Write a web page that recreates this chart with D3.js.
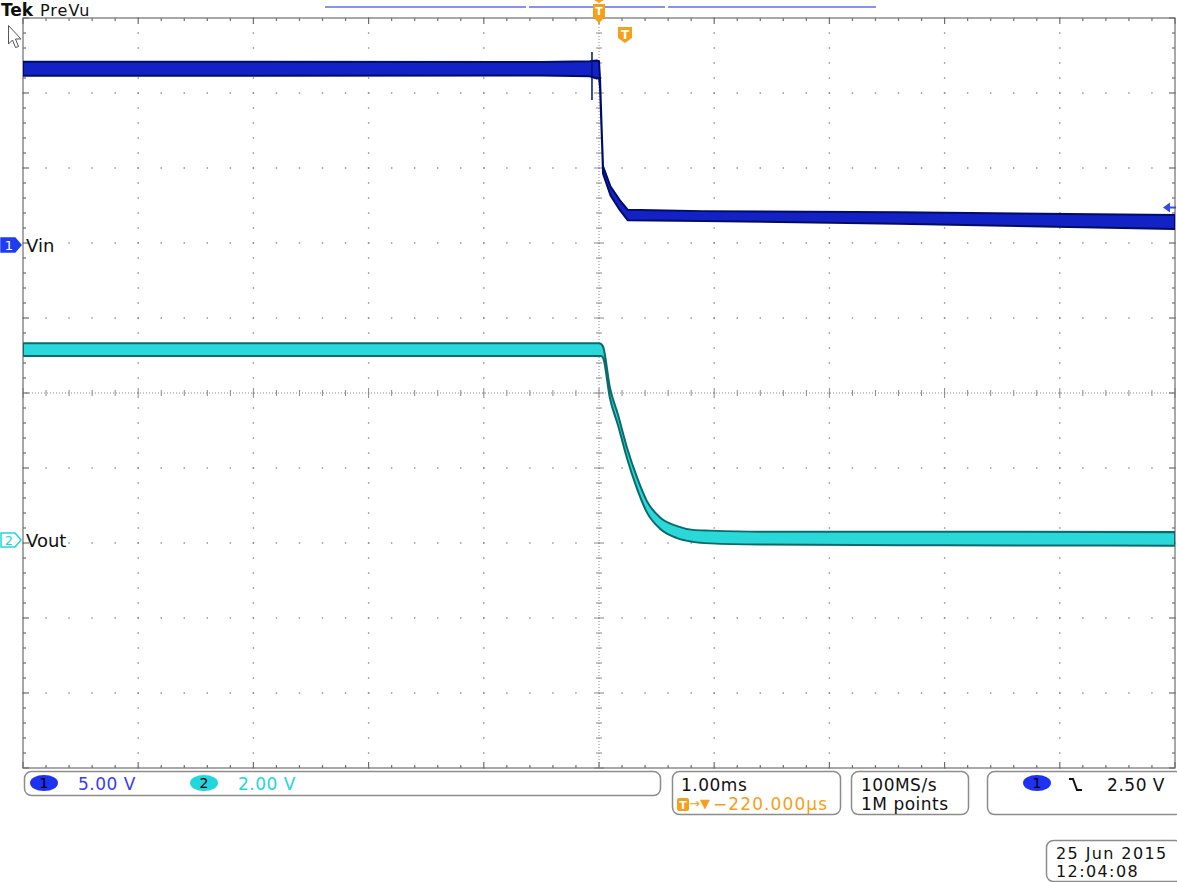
<!DOCTYPE html>
<html>
<head>
<meta charset="utf-8">
<script src="https://cdn.jsdelivr.net/npm/d3@7.9.0/dist/d3.min.js"></script>
<style>
  body { margin: 0; background: #fff; }
  svg { display: block; font-family: 'DejaVu Sans', sans-serif; }
</style>
</head>
<body>
<div id="scope"></div>
<script>
// time in ms (0 = trigger at screen centre), volts per channel
const vinTime  = [-5.0, -0.5, -0.08, -0.02, 0.0, 0.009, 0.026, 0.035, 0.10, 0.18, 0.25, 0.9, 2.6, 5.0];
const vinVolts = [11.75, 11.75, 11.75, 11.7, 11.7, 10.8, 7.0, 5.0, 3.6, 2.67, 2.0, 1.93, 1.8, 1.53];
const vinNoise = [0.47, 0.45, 0.5, 0.6, 0.55, 0.3, 0.15, 0.25, 0.3, 0.33, 0.35, 0.33, 0.38, 0.47];
const glitchTime  = [-0.061, -0.061];
const glitchVolts = [12.87, 9.67];

const voutTime  = [-5.0, -0.5, 0.0, 0.017, 0.035, 0.095, 0.165, 0.243, 0.33, 0.417, 0.53, 0.677, 0.816, 0.964, 1.4, 3.0, 5.0];
const voutVolts = [5.08, 5.08, 5.08, 5.07, 5.01, 3.92, 3.2, 2.32, 1.52, 0.88, 0.45, 0.21, 0.11, 0.08, 0.05, 0.04, 0.03];
const voutNoise = [0.17, 0.17, 0.17, 0.16, 0.15, 0.14, 0.14, 0.14, 0.15, 0.15, 0.15, 0.16, 0.16, 0.17, 0.17, 0.18, 0.18];

// scope settings
const ch1 = { label: 'Vin', scale: 5, position: 1.973, setting: '5.00 V' };
const ch2 = { label: 'Vout', scale: 2, position: -1.96, setting: '2.00 V' };
const timebase = '1.00ms';
const trigDelay = '\u2212220.000\u00b5s';
const sampleRate = '100MS/s';
const recordLen = '1M points';
const trigLevel = 2.5;
const trigText = '2.50 V';
const dateText = ['25 Jun 2015', '12:04:08'];

const W = 1177, H = 882;
const gLeft = 23, gRight = 1175, gTop = 18, gBottom = 768;
const cyan = '#22d6dc', orange = '#f5a01a';

const svg = d3.select('#scope').append('svg')
  .attr('width', W).attr('height', H);
svg.append('rect').attr('width', W).attr('height', H).attr('fill', '#fff');

const x = d3.scaleLinear().domain([-5, 5]).range([gLeft, gRight]);
const yDiv = d3.scaleLinear().domain([-5, 5]).range([gBottom, gTop]);
const yCh = (ch) => (v) => yDiv(v / ch.scale + ch.position);
const y1 = yCh(ch1), y2 = yCh(ch2);

// graticule
const minorX = d3.range(-5, 5.001, 0.2);
const minorY = d3.range(-5, 5.001, 0.2);
const majors = d3.range(-4, 5, 1).filter(d => d !== 0);
const grid = svg.append('g').attr('fill', '#8a8a8a');

majors.forEach(m => {
  grid.selectAll(null).data(minorY).join('rect')
    .attr('x', x(m) - 0.7).attr('y', d => yDiv(d) - 0.7)
    .attr('width', 1.4).attr('height', 1.4);
  grid.selectAll(null).data(minorX).join('rect')
    .attr('x', d => x(d) - 0.7).attr('y', yDiv(m) - 0.7)
    .attr('width', 1.4).attr('height', 1.4);
});

const isMajor = d => Math.abs(d - Math.round(d)) < 0.01;

// centre cross
const cross = svg.append('g').attr('stroke', '#8a8a8a').attr('stroke-width', 1);
cross.append('line').attr('x1', gLeft).attr('x2', gRight)
  .attr('y1', yDiv(0)).attr('y2', yDiv(0)).attr('stroke-dasharray', '1,2');
cross.append('line').attr('y1', gTop).attr('y2', gBottom)
  .attr('x1', x(0)).attr('x2', x(0)).attr('stroke-dasharray', '1,2');
cross.selectAll('.cx').data(minorX).join('line')
  .attr('x1', d => x(d)).attr('x2', d => x(d))
  .attr('y1', d => yDiv(0) - (isMajor(d) ? 5 : 3))
  .attr('y2', d => yDiv(0) + (isMajor(d) ? 5 : 3));
cross.selectAll('.cy').data(minorY).join('line')
  .attr('y1', d => yDiv(d)).attr('y2', d => yDiv(d))
  .attr('x1', d => x(0) - (isMajor(d) ? 5 : 3))
  .attr('x2', d => x(0) + (isMajor(d) ? 5 : 3));

// border with inward ticks
const tickLen = d => (isMajor(d) ? 6 : 3);
const border = svg.append('g').attr('stroke', '#6e6e6e').attr('stroke-width', 1.2);
border.append('rect').attr('x', gLeft).attr('y', gTop)
  .attr('width', gRight - gLeft).attr('height', gBottom - gTop).attr('fill', 'none');
minorX.forEach(d => {
  border.append('line').attr('x1', x(d)).attr('x2', x(d)).attr('y1', gTop).attr('y2', gTop + tickLen(d));
  border.append('line').attr('x1', x(d)).attr('x2', x(d)).attr('y1', gBottom).attr('y2', gBottom - tickLen(d));
});
minorY.forEach(d => {
  border.append('line').attr('y1', yDiv(d)).attr('y2', yDiv(d)).attr('x1', gLeft).attr('x2', gLeft + tickLen(d));
  border.append('line').attr('y1', yDiv(d)).attr('y2', yDiv(d)).attr('x1', gRight).attr('x2', gRight - tickLen(d));
});

// traces
svg.append('clipPath').attr('id', 'clip').append('rect')
  .attr('x', gLeft).attr('y', gTop).attr('width', gRight - gLeft).attr('height', gBottom - gTop);
const traces = svg.append('g').attr('clip-path', 'url(#clip)');

function band(times, volts, noise, ys, fill, edge, curve) {
  const pts = times.map((t, i) => ({ t, v: volts[i], n: noise[i] }));
  const area = d3.area()
    .x(d => x(d.t))
    .y0(d => ys(d.v - d.n))
    .y1(d => ys(d.v + d.n))
    .curve(curve);
  traces.append('path').datum(pts).attr('d', area)
    .attr('fill', fill).attr('stroke', edge).attr('stroke-width', 2)
    .attr('stroke-linejoin', 'round');
}
band(voutTime, voutVolts, voutNoise, y2, '#2ad8da', '#0b6a6c', d3.curveMonotoneX);
band(vinTime, vinVolts, vinNoise, y1, '#1222c4', '#000c66', d3.curveLinear);
traces.append('path')
  .datum(glitchTime.map((t, i) => [x(t), y1(glitchVolts[i])]))
  .attr('d', d3.line()).attr('stroke', '#00107a').attr('stroke-width', 1.5);

// top header
svg.append('text').attr('x', 1).attr('y', 16).attr('font-size', 17)
  .attr('font-weight', 'bold').attr('fill', '#111').text('Tek');
svg.append('text').attr('x', 40).attr('y', 16).attr('font-size', 16)
  .attr('letter-spacing', 1).attr('fill', '#111').text('PreVu');

// record view bar
const rec = svg.append('g').attr('stroke', '#5d6cf0').attr('stroke-width', 1.5);
[[325, 526], [529, 665], [668, 876]].forEach(([a, b]) =>
  rec.append('line').attr('x1', a).attr('x2', b).attr('y1', 7).attr('y2', 7));

// trigger markers
const tx = x(0);
svg.append('path').attr('fill', orange)
  .attr('d', `M${tx - 5},0 L${tx + 5},0 L${tx},3 Z M${tx - 6},4 H${tx + 6} V17 H${tx - 6} Z M${tx - 6},17 H${tx + 6} L${tx},23 Z`);
svg.append('text').attr('x', tx).attr('y', 15).attr('text-anchor', 'middle')
  .attr('font-size', 11).attr('font-weight', 'bold').attr('fill', '#fff').text('T');
svg.append('path').attr('fill', orange)
  .attr('d', 'M618,27 H632 V38 L625,43 L618,38 Z');
svg.append('text').attr('x', 625).attr('y', 39).attr('text-anchor', 'middle')
  .attr('font-size', 12).attr('font-weight', 'bold').attr('fill', '#fff').text('T');

// trigger level arrow (right edge)
const tl = y1(trigLevel);
svg.append('path').attr('fill', '#2f4cf0')
  .attr('d', `M1163,${tl} L1170,${tl - 5} L1170,${tl + 5} Z`);
svg.append('line').attr('x1', 1169).attr('x2', 1176).attr('y1', tl).attr('y2', tl)
  .attr('stroke', '#2f4cf0').attr('stroke-width', 2);

// mouse pointer
svg.append('path').attr('fill', '#fff').attr('stroke', '#555').attr('stroke-width', 1)
  .attr('d', 'M8.5,25.5 L8.5,44 L12.5,40 L15.5,47.5 L18.5,46.5 L15.5,39 L21,39 Z');

// channel ground markers
function chMarker(ch, num, fill, stroke, textFill) {
  const cy = yDiv(ch.position);
  svg.append('path').attr('fill', fill).attr('stroke', stroke).attr('stroke-width', 1.5)
    .attr('d', `M1,${cy - 7} H15 L21,${cy} L15,${cy + 7} H1 Z`);
  svg.append('text').attr('x', 9).attr('y', cy + 5).attr('text-anchor', 'middle')
    .attr('font-size', 13).attr('fill', textFill).text(num);
  svg.append('text').attr('x', 26).attr('y', cy + 7).attr('font-size', 18)
    .attr('fill', '#111').text(ch.label);
}
chMarker(ch1, '1', '#1f3cf0', '#1f3cf0', '#fff');
chMarker(ch2, '2', '#fff', cyan, cyan);

// status boxes
const boxes = svg.append('g').attr('fill', 'none').attr('stroke', '#8c8c8c').attr('stroke-width', 1.5);
[[24, 771, 636, 24], [672, 771, 168, 43], [851, 771, 117, 43], [987, 771, 195, 43], [1046, 840, 136, 41]]
  .forEach(([bx, by, bw, bh]) => boxes.append('rect')
    .attr('x', bx + 0.5).attr('y', by + 0.5).attr('width', bw).attr('height', bh).attr('rx', 7));

const status = svg.append('g').attr('font-size', 17).attr('letter-spacing', 0.5);
function badge(cx, cy, fill, num) {
  status.append('ellipse').attr('cx', cx).attr('cy', cy).attr('rx', 14).attr('ry', 8).attr('fill', fill);
  status.append('text').attr('x', cx).attr('y', cy + 5).attr('text-anchor', 'middle')
    .attr('font-size', 14).attr('letter-spacing', 0).attr('fill', '#000').text(num);
}
badge(44, 783, '#1e32f2', '1');
status.append('text').attr('x', 78).attr('y', 790).attr('fill', '#3a3cf0').text(ch1.setting);
badge(204, 783, cyan, '2');
status.append('text').attr('x', 238).attr('y', 790).attr('fill', cyan).text(ch2.setting);

status.append('text').attr('x', 681).attr('y', 791).attr('fill', '#111').text(timebase);
status.append('rect').attr('x', 677).attr('y', 798).attr('width', 12).attr('height', 13)
  .attr('rx', 2).attr('fill', orange);
status.append('text').attr('x', 683).attr('y', 809).attr('text-anchor', 'middle')
  .attr('font-size', 11).attr('font-weight', 'bold').attr('letter-spacing', 0).attr('fill', '#fff').text('T');
status.append('text').attr('x', 689).attr('y', 808).attr('font-size', 13)
  .attr('letter-spacing', 0).attr('fill', orange).text('\u2192\u25bc');
status.append('text').attr('x', 713).attr('y', 810).attr('letter-spacing', 1.1)
  .attr('fill', orange).text(trigDelay);

status.append('text').attr('x', 861).attr('y', 791).attr('fill', '#111').text(sampleRate);
status.append('text').attr('x', 861).attr('y', 810).attr('fill', '#111').text(recordLen);

badge(1037, 783, '#1e32f2', '1');
svg.append('path').attr('fill', 'none').attr('stroke', '#111').attr('stroke-width', 2)
  .attr('d', 'M1069,779 H1073 L1077,790 H1082');
status.append('text').attr('x', 1165).attr('y', 791).attr('text-anchor', 'end')
  .attr('fill', '#111').text(trigText);

status.append('text').attr('x', 1056).attr('y', 859).attr('font-size', 16)
  .attr('letter-spacing', 1.4).attr('fill', '#111').text(dateText[0]);
status.append('text').attr('x', 1056).attr('y', 877).attr('font-size', 16)
  .attr('letter-spacing', 1.4).attr('fill', '#111').text(dateText[1]);
</script>
</body>
</html>
